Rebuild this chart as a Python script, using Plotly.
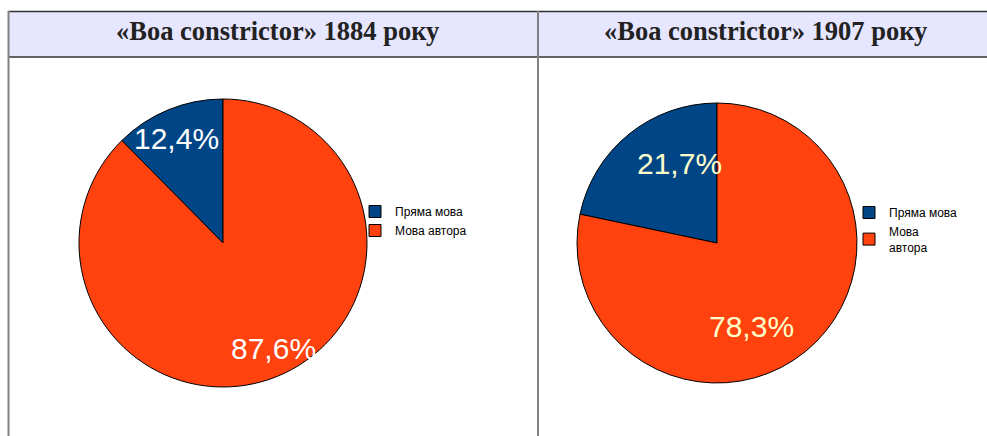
import plotly.graph_objects as go

W, H = 987, 436

# ---- data ----
titles = ["«Boa constrictor» 1884 року", "«Boa constrictor» 1907 року"]
labels_1884 = ["Пряма мова", "Мова автора"]
labels_1907 = ["Пряма мова ", "Мова<br>автора"]
values_1884 = [12.4, 87.6]
values_1907 = [21.7, 78.3]

colors = ["#004586", "#ff420e"]


def px(x):
    return x / W


def py(y):
    return 1 - y / H


def fmt(v):
    return f"{v:.1f}%".replace(".", ",")


def start_rot(vals):
    # first slice ends at 12 o'clock, drawn to its left
    return 360.0 * vals[0] / sum(vals)


fig = go.Figure()

fig.add_trace(go.Pie(
    labels=labels_1884, values=values_1884, sort=False,
    direction="clockwise", rotation=-start_rot(values_1884),
    marker=dict(colors=colors, line=dict(color="#000000", width=1)),
    textinfo="none", hoverinfo="label+percent",
    domain=dict(x=[px(79), px(367)], y=[py(387), py(99)]),
    legend="legend",
))
fig.add_trace(go.Pie(
    labels=labels_1907, values=values_1907, sort=False,
    direction="clockwise", rotation=-start_rot(values_1907),
    marker=dict(colors=colors, line=dict(color="#000000", width=1)),
    textinfo="none", hoverinfo="label+percent",
    domain=dict(x=[px(577), px(857)], y=[py(383), py(103)]),
    legend="legend2",
))

# table-like frame
shapes = [
    dict(type="rect", xref="paper", yref="paper", x0=px(8), x1=1.01, y0=py(57), y1=py(11),
         fillcolor="#e6e6ff", line=dict(width=0), layer="below"),
    dict(type="line", xref="paper", yref="paper", x0=px(8), x1=1.01, y0=py(11.5), y1=py(11.5),
         line=dict(color="#333333", width=1.5)),
    dict(type="line", xref="paper", yref="paper", x0=px(8), x1=1.01, y0=py(57), y1=py(57),
         line=dict(color="#333333", width=1.5)),
    dict(type="line", xref="paper", yref="paper", x0=px(8.5), x1=px(8.5), y0=py(11), y1=py(437),
         line=dict(color="#808080", width=2)),
    dict(type="line", xref="paper", yref="paper", x0=px(538), x1=px(538), y0=py(11), y1=py(437),
         line=dict(color="#808080", width=2)),
]

title_font = dict(family="Liberation Serif", size=26.5, color="#222222")
annotations = [
    dict(text=f"<b>{titles[0]}</b>", x=px(277), y=py(31), xref="paper", yref="paper",
         xanchor="center", yanchor="middle", showarrow=False, font=title_font),
    dict(text=f"<b>{titles[1]}</b>", x=px(765), y=py(31), xref="paper", yref="paper",
         xanchor="center", yanchor="middle", showarrow=False, font=title_font),
    dict(text=fmt(values_1884[0]), x=px(176), y=py(138), xref="paper", yref="paper",
         xanchor="center", yanchor="middle", showarrow=False,
         font=dict(family="Liberation Sans", size=30, color="#ffffff")),
    dict(text=fmt(values_1884[1]), x=px(273), y=py(348), xref="paper", yref="paper",
         xanchor="center", yanchor="middle", showarrow=False,
         font=dict(family="Liberation Sans", size=30, color="#ffffff")),
    dict(text=fmt(values_1907[0]), x=px(679), y=py(163), xref="paper", yref="paper",
         xanchor="center", yanchor="middle", showarrow=False,
         font=dict(family="Liberation Sans", size=30, color="#ffffcc")),
    dict(text=fmt(values_1907[1]), x=px(751), y=py(326), xref="paper", yref="paper",
         xanchor="center", yanchor="middle", showarrow=False,
         font=dict(family="Liberation Sans", size=30, color="#ffffcc")),
]

fig.update_layout(
    width=W, height=H,
    margin=dict(l=0, r=0, t=0, b=0),
    paper_bgcolor="#ffffff", plot_bgcolor="#ffffff",
    shapes=shapes, annotations=annotations,
    showlegend=True,
    legend=dict(x=px(355), y=py(197), xanchor="left", yanchor="top",
                bgcolor="rgba(0,0,0,0)", tracegroupgap=0,
                font=dict(family="Liberation Sans", size=12, color="#000000")),
    legend2=dict(x=px(849), y=py(198), xanchor="left", yanchor="top",
                 bgcolor="rgba(0,0,0,0)", tracegroupgap=0,
                 font=dict(family="Liberation Sans", size=12, color="#000000")),
)

fig.write_html("out.html", config={"displayModeBar": False},
               post_script="document.body.style.margin='0';document.body.style.overflow='hidden';")
